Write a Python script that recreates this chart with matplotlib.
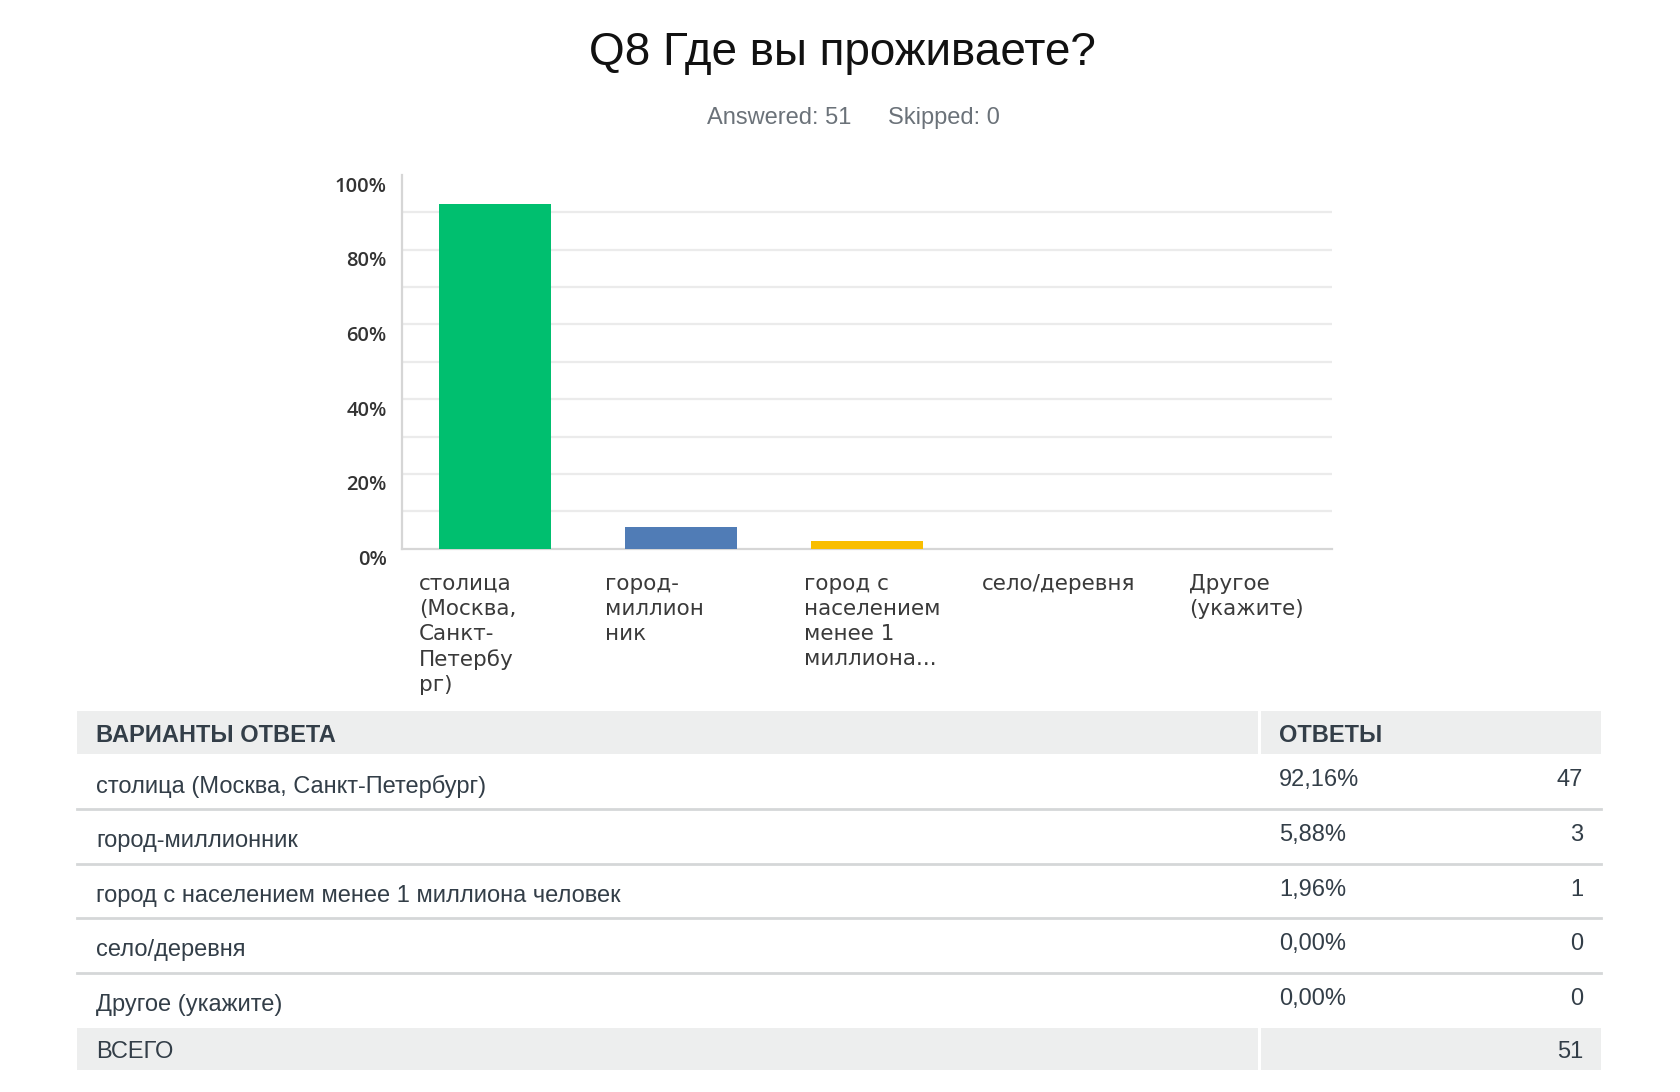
import numpy as np
import matplotlib
matplotlib.use("Agg")
import matplotlib.pyplot as plt
from matplotlib.patches import Rectangle
from matplotlib.transforms import ScaledTranslation, blended_transform_factory

# data
options = ['столица (Москва, Санкт-Петербург)', 'город-миллионник',
           'город с населением менее 1 миллиона человек', 'село/деревня',
           'Другое (укажите)']
axis_labels = ['столица\n(Москва,\nСанкт-\nПетербу\nрг)', 'город-\nмиллион\nник',
               'город с\nнаселением\nменее 1\nмиллиона...', 'село/деревня',
               'Другое\n(укажите)']
counts = [47, 3, 1, 0, 0]
answered = 51
skipped = 0
bar_colors = ['#00bf6f', '#507cb6', '#f9be00', '#6bc8cd', '#ff8b4f']
y_ticks = [0, 20, 40, 60, 80, 100]

pct = [c / answered * 100 for c in counts]

W, H = 1680, 1092
fig = plt.figure(figsize=(W / 100, H / 100), dpi=100)

# overlay axes in pixel coords for title & table
bg = fig.add_axes([0, 0, 1, 1])
bg.set_xlim(0, W)
bg.set_ylim(H, 0)
bg.axis('off')

bg.text(842, 53, 'Q8 Где вы проживаете?', ha='center', va='center',
        fontsize=33, family='Liberation Sans', color='#111111')
bg.text(707, 118, f'Answered: {answered}', ha='left', va='center',
        fontsize=17, family='Liberation Sans', color='#6b7279')
bg.text(888, 118, f'Skipped: {skipped}', ha='left', va='center',
        fontsize=17, family='Liberation Sans', color='#6b7279')

# bar chart
ax = fig.add_axes([402 / W, 1 - 548.6 / H, (1332 - 402) / W, (548.6 - 175) / H])
x = np.arange(len(counts))
ax.bar(x, pct, width=0.6, color=bar_colors, zorder=3)
ax.set_xlim(-0.5, len(counts) - 0.5)
ax.set_ylim(0, 100)
for yv in range(10, 100, 10):
    ax.axhline(yv, color='#ebebeb', lw=1.6, zorder=1)
for s in ['top', 'right']:
    ax.spines[s].set_visible(False)
for s in ['left', 'bottom']:
    ax.spines[s].set_color('#d6d6d6')
    ax.spines[s].set_linewidth(1.6)
ax.set_xticks([])
ax.set_yticks(y_ticks)
ax.set_yticklabels([f'{v}%' for v in y_ticks], family='Open Sans',
                   fontweight='semibold', fontsize=14.5, color='#333333')
ax.tick_params(axis='y', length=0, pad=11)
shift = ScaledTranslation(0, -0.09, fig.dpi_scale_trans)
for lab in ax.get_yticklabels():
    lab.set_transform(lab.get_transform() + shift)

# wrapped category labels under the bars
trans = blended_transform_factory(ax.transData, ax.transAxes)
label_x = [-0.41, 0.59, 1.66, 2.62, 3.73]
for lx, lab in zip(label_x, axis_labels):
    ax.text(lx, -0.068, lab, transform=trans, ha='left', va='top',
            fontsize=15.5, family='DejaVu Sans', color='#3a3a3a', linespacing=1.31)

# table
left, right, split = 77, 1601, 1259
head_top, head_bot = 711, 754
row_h = 54.8
tfont = dict(family='Liberation Sans', fontsize=17, color='#333e48')
bg.add_patch(Rectangle((left, head_top), split - 1.5 - left, head_bot - head_top,
                       color='#edeeee', lw=0))
bg.add_patch(Rectangle((split + 1.5, head_top), right - split - 1.5, head_bot - head_top,
                       color='#edeeee', lw=0))
bg.text(96, 736, 'ВАРИАНТЫ ОТВЕТА', ha='left', va='center', fontweight='bold', **tfont)
bg.text(1279, 736, 'ОТВЕТЫ', ha='left', va='center', fontweight='bold', **tfont)

for i, (opt, p, c) in enumerate(zip(options, pct, counts)):
    top = head_bot + i * row_h
    bg.text(96, top + 32, opt, ha='left', va='center', **tfont)
    bg.text(1279, top + 26, f'{p:.2f}%'.replace('.', ','), ha='left', va='center', **tfont)
    bg.text(1583, top + 26, str(c), ha='right', va='center', **tfont)
    if i < len(options) - 1:
        bg.plot([left, right], [top + row_h, top + row_h], color='#d5d7d8', lw=2)

tot_top = head_bot + len(options) * row_h
bg.add_patch(Rectangle((left, tot_top), split - 1.5 - left, 42, color='#edeeee', lw=0))
bg.add_patch(Rectangle((split + 1.5, tot_top), right - split - 1.5, 42, color='#edeeee', lw=0))
bg.text(96, tot_top + 24, 'ВСЕГО', ha='left', va='center', **tfont)
bg.text(1583, tot_top + 24, str(answered), ha='right', va='center', **tfont)

fig.savefig('out.png', dpi=100)
